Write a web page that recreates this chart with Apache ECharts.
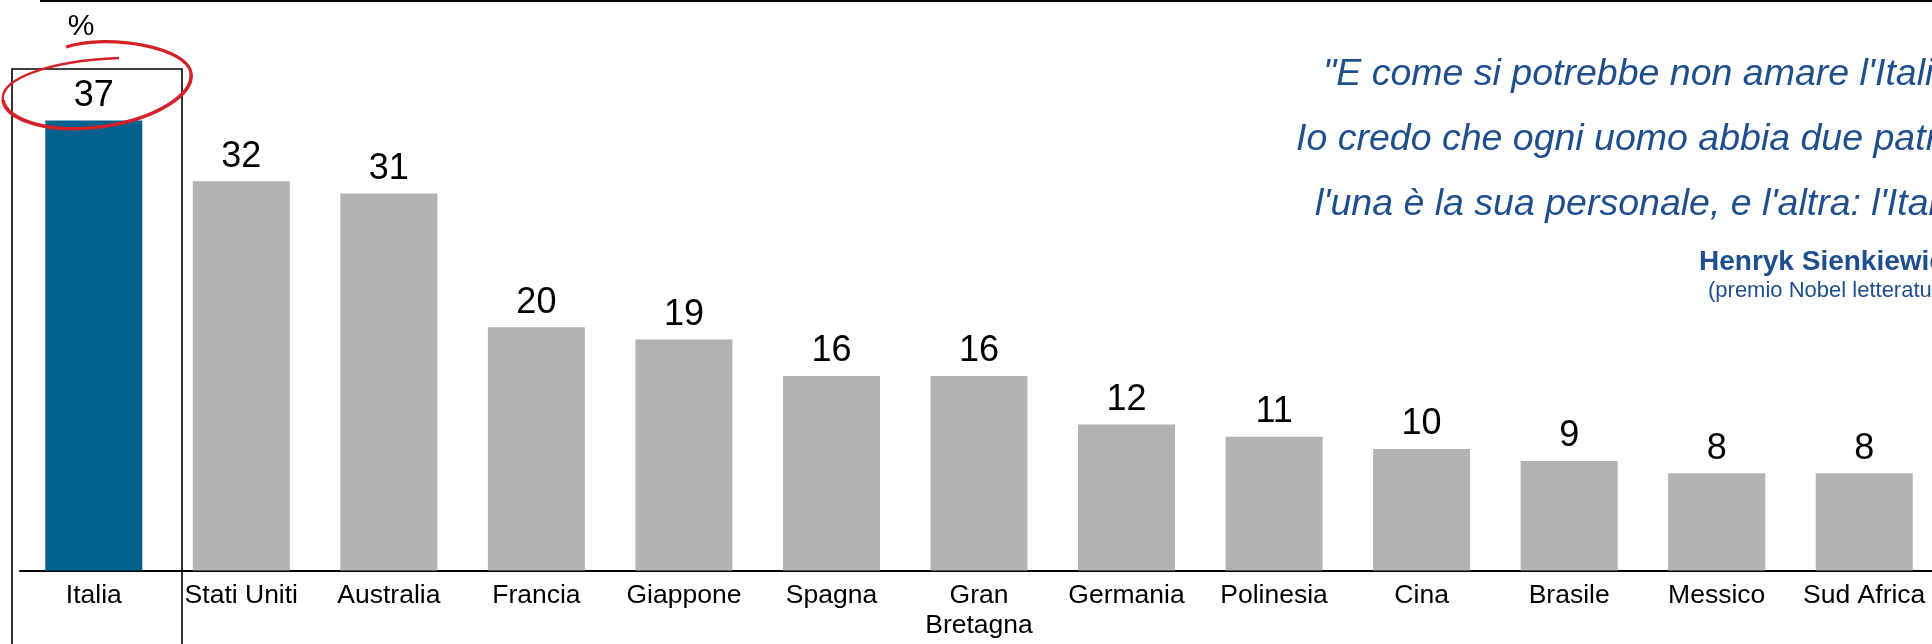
<!DOCTYPE html>
<html>
<head>
<meta charset="utf-8">
<script src="https://cdn.jsdelivr.net/npm/echarts@6/dist/echarts.min.js"></script>
<style>
html,body{margin:0;padding:0;background:#fff;}
#chart{width:1932px;height:644px;}
</style>
</head>
<body>
<div id="chart"></div>
<script>
const categories = ['Italia','Stati Uniti','Australia','Francia','Giappone','Spagna','Gran\nBretagna','Germania','Polinesia','Cina','Brasile','Messico','Sud Africa'];
const values = [37, 32, 31, 20, 19, 16, 16, 12, 11, 10, 9, 8, 8];
const highlightCategory = 'Italia';
const unitLabel = '%';
const quoteLines = ['"E come si potrebbe non amare l\'Italia?', 'Io credo che ogni uomo abbia due patrie:', 'l\'una è la sua personale, e l\'altra: l\'Italia."'];
const authorName = 'Henryk Sienkiewicz';
const authorNote = '(premio Nobel letteratura 1905)';

const FONT = '"Liberation Sans", Arial, Helvetica, sans-serif';
const BLUE = '#01628F';
const GREY = '#B2B2B2';
const QUOTE = '#1F4E8C';

const chart = echarts.init(document.getElementById('chart'), null, {renderer: 'canvas'});

const barData = values.map((v, i) => ({
  value: v,
  itemStyle: { color: categories[i] === highlightCategory ? BLUE : GREY }
}));

function txt(text, x, y, size, opts) {
  opts = opts || {};
  return {
    type: 'text', x: x, y: y, z: 10,
    style: {
      text: text,
      fontSize: size,
      fontFamily: FONT,
      fontStyle: opts.italic ? 'italic' : 'normal',
      fontWeight: opts.bold ? 'bold' : 'normal',
      fill: opts.color || '#000',
      align: opts.align || 'left', textAlign: opts.align || 'left',
      verticalAlign: 'middle', textVerticalAlign: 'middle'
    }
  };
}

const RED = '#D42027';
const option = {
  backgroundColor: '#fff',
  animation: false,
  grid: { left: 20, right: -6, top: 84, bottom: 73.5, containLabel: false, outerBoundsMode: 'none' },
  xAxis: {
    type: 'category',
    data: categories,
    axisLine: { show: true, lineStyle: { color: '#000', width: 2 } },
    axisTick: { show: false },
    axisLabel: { interval: 0, color: '#000', fontSize: 26.5, fontFamily: FONT, margin: 10, lineHeight: 30, hideOverlap: false }
  },
  yAxis: { type: 'value', min: 0, max: 40, show: false, splitLine: { show: false } },
  series: [{
    type: 'bar',
    data: barData,
    barWidth: 97,
    label: { show: true, position: 'top', distance: 6.5, color: '#000', fontSize: 36, fontFamily: FONT }
  }],
  graphic: [
    { type: 'line', shape: { x1: 40, y1: 1, x2: 1932, y2: 1 }, style: { stroke: '#000', lineWidth: 2 } },
    { type: 'rect', shape: { x: 12, y: 69, width: 170, height: 620 }, style: { fill: 'none', stroke: '#000', lineWidth: 1.6 } },
    txt(unitLabel, 81, 27, 30, { align: 'center' }),
    // hand-drawn red ellipse
    { type: 'bezierCurve', z: 20, shape: { x1: 66, y1: 47, cpx1: 110, cpy1: 33, cpx2: 188, cpy2: 48, x2: 191, y2: 73 }, style: { stroke: RED, lineWidth: 3.2, fill: 'none' } },
    { type: 'bezierCurve', z: 20, shape: { x1: 191, y1: 73, cpx1: 194, cpy1: 95, cpx2: 155, cpy2: 119, x2: 103, y2: 126.5 }, style: { stroke: RED, lineWidth: 3.6, fill: 'none' } },
    { type: 'bezierCurve', z: 20, shape: { x1: 103, y1: 126.5, cpx1: 51, cpy1: 134, cpx2: 6, cpy2: 121, x2: 3, y2: 100 }, style: { stroke: RED, lineWidth: 3.6, fill: 'none' } },
    { type: 'bezierCurve', z: 20, shape: { x1: 3, y1: 100, cpx1: 0, cpy1: 80, cpx2: 45, cpy2: 61, x2: 119, y2: 58 }, style: { stroke: RED, lineWidth: 2.4, fill: 'none' } },
    // quote
    txt(quoteLines[0], 1323, 75, 37.5, { italic: true, color: QUOTE }),
    txt(quoteLines[1], 1296, 140, 37.5, { italic: true, color: QUOTE }),
    txt(quoteLines[2], 1315, 205, 37.5, { italic: true, color: QUOTE }),
    txt(authorName, 1699, 262, 28, { bold: true, color: QUOTE }),
    txt(authorNote, 1708, 291, 22, { color: QUOTE })
  ]
};
chart.setOption(option);
</script>
</body>
</html>
